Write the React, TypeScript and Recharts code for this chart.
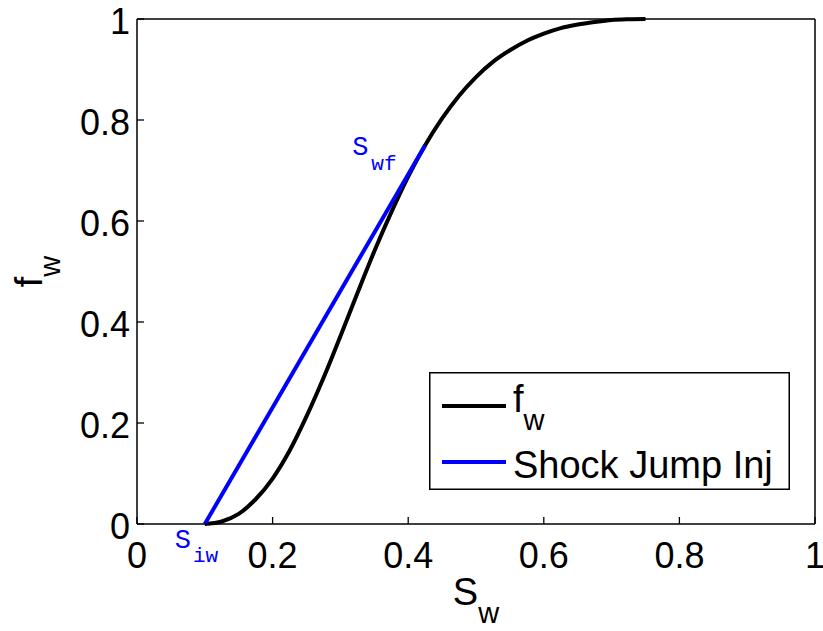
import React from "react";
import { LineChart, Line, XAxis, YAxis, Legend, ReferenceDot } from "recharts";

// water saturation samples and fractional flow
const swValues = [
  0.1, 0.125, 0.15, 0.175, 0.2, 0.225, 0.25, 0.275, 0.3, 0.325, 0.35, 0.375, 0.4, 0.425,
  0.45, 0.475, 0.5, 0.525, 0.55, 0.575, 0.6, 0.625, 0.65, 0.675, 0.7, 0.725, 0.75
];
const fwValues = [
  0, 0.005, 0.02, 0.049, 0.09, 0.145, 0.213, 0.289, 0.372, 0.457, 0.54, 0.617, 0.688, 0.75,
  0.803, 0.848, 0.885, 0.915, 0.938, 0.957, 0.971, 0.982, 0.989, 0.994, 0.998, 0.9995, 1
];

// shock jump (Welge tangent) from S_iw to S_wf
const shockSw = [0.1, 0.425];
const shockFw = [0, 0.75];

const axisTicks = [0, 0.2, 0.4, 0.6, 0.8, 1];
const axisTickLabels = ["0", "0.2", "0.4", "0.6", "0.8", "1"];

const fwCurve = swValues.map((sw, i) => ({ sw, fw: fwValues[i] }));
const shockLine = shockSw.map((sw, i) => ({ sw, fw: shockFw[i] }));

const SANS = '"Liberation Sans", Arial, Helvetica, sans-serif';
const MONO = '"Liberation Mono", "Courier New", monospace';
const TICK_LEN = 7;
const BLUE = "#0000ff";
const LINE_W = 4;

function tickText(v: number) {
  const i = axisTicks.indexOf(v);
  return i >= 0 ? axisTickLabels[i] : String(v);
}

function BottomTick({ x, y, payload }: any) {
  return (
    <g>
      <line x1={x} x2={x} y1={y} y2={y - TICK_LEN} stroke="#000" strokeWidth={1.3} />
      <text x={x} y={y + 44} textAnchor="middle" fontSize={36} fontFamily={SANS} fill="#000">
        {tickText(payload.value)}
      </text>
    </g>
  );
}

function TopTick({ x, y }: any) {
  return <line x1={x} x2={x} y1={y} y2={y + TICK_LEN} stroke="#000" strokeWidth={1.3} />;
}

function LeftTick({ x, y, payload }: any) {
  return (
    <g>
      <line x1={x} x2={x + TICK_LEN} y1={y} y2={y} stroke="#000" strokeWidth={1.3} />
      <text x={x - 7} y={y + 15} textAnchor="end" fontSize={36} fontFamily={SANS} fill="#000">
        {tickText(payload.value)}
      </text>
    </g>
  );
}

function RightTick({ x, y }: any) {
  return <line x1={x} x2={x - TICK_LEN} y1={y} y2={y} stroke="#000" strokeWidth={1.3} />;
}

function XTitle({ viewBox }: any) {
  const cx = viewBox.x + viewBox.width / 2;
  return (
    <text x={cx} y={viewBox.y + 81} textAnchor="middle" fontFamily={SANS} fill="#000">
      <tspan fontSize={38}>S</tspan>
      <tspan fontSize={29} dy={18}>w</tspan>
    </text>
  );
}

function YTitle({ viewBox }: any) {
  const cy = viewBox.y + viewBox.height / 2;
  const bx = viewBox.x + 42;
  return (
    <text
      transform={`translate(${bx},${cy}) rotate(-90)`}
      textAnchor="middle"
      fontFamily={SANS}
      fill="#000"
    >
      <tspan fontSize={38}>f</tspan>
      <tspan fontSize={29} dy={18}>w</tspan>
    </text>
  );
}

function SatLabel({ viewBox, main, sub, dx, dy, subDx, subDy }: any) {
  return (
    <text x={viewBox.x + dx} y={viewBox.y + dy} fontFamily={MONO} fill={BLUE}>
      <tspan fontSize={27}>{main}</tspan>
      <tspan fontSize={21} dx={subDx} dy={subDy}>
        {sub}
      </tspan>
    </text>
  );
}

function LegendBox() {
  return (
    <svg width={361} height={118} style={{ display: "block" }}>
      <rect x={0.75} y={0.75} width={359.5} height={116.5} fill="#fff" stroke="#000" strokeWidth={1.5} />
      <line x1={13} x2={77} y1={34} y2={34} stroke="#000" strokeWidth={LINE_W} />
      <text x={84} y={40} fontFamily={SANS} fill="#000">
        <tspan fontSize={38}>f</tspan>
        <tspan fontSize={29} dy={18}>w</tspan>
      </text>
      <line x1={13} x2={77} y1={90} y2={90} stroke={BLUE} strokeWidth={LINE_W} />
      <text x={84} y={106} fontSize={38} fontFamily={SANS} fill="#000">
        Shock Jump Inj
      </text>
    </svg>
  );
}

export default function App() {
  return (
    <div style={{ position: "absolute", left: 0, top: 0, width: 823, height: 631, background: "#fff" }}>
      <LineChart width={823} height={631} margin={{ top: 0, right: 0, bottom: 0, left: 0 }}>
        <XAxis
          type="number"
          dataKey="sw"
          domain={[0, 1]}
          ticks={axisTicks}
          height={107}
          tickSize={0}
          tickMargin={0}
          tickLine={false}
          axisLine={{ stroke: "#000", strokeWidth: 1.5 }}
          tick={<BottomTick />}
          interval={0}
          label={<XTitle />}
        />
        <XAxis
          xAxisId="top"
          orientation="top"
          type="number"
          dataKey="sw"
          domain={[0, 1]}
          ticks={axisTicks}
          height={19}
          tickSize={0}
          tickMargin={0}
          tickLine={false}
          axisLine={{ stroke: "#000", strokeWidth: 1.5 }}
          tick={<TopTick />}
          interval={0}
        />
        <YAxis
          type="number"
          domain={[0, 1]}
          ticks={axisTicks}
          width={137}
          tickSize={0}
          tickMargin={0}
          tickLine={false}
          axisLine={{ stroke: "#000", strokeWidth: 1.5 }}
          tick={<LeftTick />}
          interval={0}
          label={<YTitle />}
        />
        <YAxis
          yAxisId="right"
          orientation="right"
          type="number"
          domain={[0, 1]}
          ticks={axisTicks}
          width={8}
          tickSize={0}
          tickMargin={0}
          tickLine={false}
          axisLine={{ stroke: "#000", strokeWidth: 1.5 }}
          tick={<RightTick />}
          interval={0}
        />
        <Line
          data={fwCurve}
          dataKey="fw"
          type="monotone"
          stroke="#000"
          strokeWidth={LINE_W}
          dot={false}
          isAnimationActive={false}
        />
        <Line
          data={shockLine}
          dataKey="fw"
          type="linear"
          stroke={BLUE}
          strokeWidth={LINE_W}
          dot={false}
          isAnimationActive={false}
        />
        <ReferenceDot
          x={shockSw[0]}
          y={shockFw[0]}
          r={0}
          fill="none"
          stroke="none"
          label={<SatLabel main="S" sub="iw" dx={-30} dy={24} subDx={2} subDy={14} />}
        />
        <ReferenceDot
          x={shockSw[1]}
          y={shockFw[1]}
          r={0}
          fill="none"
          stroke="none"
          label={<SatLabel main="S" sub="wf" dx={-73} dy={10} subDx={3} subDy={15} />}
        />
        <Legend
          layout="vertical"
          align="center"
          verticalAlign="middle"
          wrapperStyle={{ left: 429, top: 372, width: 361, height: 118 }}
          content={() => <LegendBox />}
        />
      </LineChart>
    </div>
  );
}
